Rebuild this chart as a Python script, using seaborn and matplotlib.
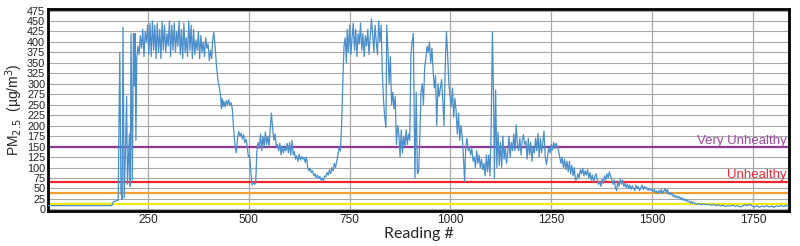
import pandas as pd
import matplotlib.pyplot as plt
import matplotlib.transforms as mtransforms
import seaborn as sns

# Set style
sns.set_theme(style="white")
plt.rcParams['font.family'] = ['Liberation Sans', 'DejaVu Sans']

# Sensor readings (reading number, PM2.5 value)
readings = [
    1, 160, 164, 176,
    180, 183, 186, 188, 191, 194, 197, 199, 202, 204, 206, 208, 211, 214, 216, 218, 220,
    222, 225, 228, 231, 234, 237, 240, 243, 246, 249, 252, 255, 258, 261, 264, 267, 270,
    273, 276, 279, 282, 285, 288, 291, 294, 297, 300, 303, 306, 309, 312, 315, 318, 321,
    324, 327, 330, 333, 336, 339, 342, 345, 348, 351, 354, 357, 360, 363, 366, 369, 372,
    375, 378, 381, 384, 387, 390, 393, 396, 399, 402,
    405, 408, 410, 413, 416, 420, 424, 427, 430, 432, 434, 436, 438, 441, 444, 447, 450,
    453, 456, 459, 462, 466, 469, 472, 475, 478, 481, 484, 487, 490, 493, 496, 499, 502,
    505, 508, 511, 514, 517, 520, 523, 526, 529, 532, 535, 538, 541, 544, 547, 550, 553,
    556, 559, 562, 565, 568, 571, 574, 577, 580, 583, 586, 589, 592, 595, 598, 601, 604,
    607, 610, 613, 616, 619, 622, 625, 628, 631, 634, 637, 640, 643, 646, 649, 652, 655,
    658, 661, 664, 667, 670, 673, 676, 679, 682, 685, 688, 691, 694, 697, 700, 703, 706,
    709, 712, 715, 718, 721, 724, 727, 730, 733, 736, 739, 742, 744, 747, 750, 753, 756,
    759, 762, 765, 768, 771, 774, 777, 780, 783, 786, 789, 792, 795, 798, 801, 804, 807,
    810, 813, 816, 819, 822, 825, 828, 831, 834, 837, 840, 842, 845, 848, 851, 854, 857,
    860, 863, 866, 869, 872, 875, 878, 881, 884, 887, 890, 893, 896, 899, 902, 905, 908,
    910, 912, 915, 918, 921, 924, 927, 930, 933, 936, 939, 942, 945, 948, 951, 954, 957,
    960, 963, 966, 969, 972, 975, 978, 981, 984, 987, 990, 993, 996, 999, 1002, 1005,
    1008, 1011, 1014, 1017, 1020, 1023, 1026, 1029, 1032, 1035, 1038, 1041, 1044, 1047,
    1050, 1053, 1056, 1059, 1062, 1065, 1068, 1071, 1074, 1077, 1080, 1083, 1086, 1089,
    1092, 1095, 1098, 1101, 1104, 1107, 1109, 1112, 1115, 1118, 1121, 1124, 1127, 1130,
    1133, 1136, 1139, 1142, 1145, 1148, 1151, 1154, 1157, 1160, 1163, 1166, 1169, 1172,
    1175, 1178, 1181, 1184, 1187, 1190, 1193, 1196, 1199, 1202, 1205, 1208, 1211, 1214,
    1217, 1220, 1223, 1226, 1229, 1232, 1235, 1238, 1241, 1244, 1247, 1250, 1253, 1256,
    1259, 1262, 1265, 1268, 1271, 1274, 1277, 1280, 1283, 1286, 1289, 1292, 1295, 1298,
    1301, 1304, 1307, 1310, 1313, 1316, 1319, 1322, 1325, 1328, 1331, 1334, 1337, 1340,
    1343, 1346, 1349, 1352, 1355, 1358, 1361, 1364, 1367, 1370, 1373, 1376, 1379, 1382,
    1385, 1388, 1391, 1394, 1397, 1400, 1403, 1406, 1409, 1412, 1415, 1418, 1421, 1424,
    1427, 1430, 1433, 1436, 1439, 1442, 1445, 1448, 1451, 1454, 1457, 1460, 1463, 1466,
    1469, 1472, 1475, 1478, 1481, 1484, 1487, 1490, 1493, 1496, 1499, 1502, 1505, 1508,
    1511, 1514, 1517, 1520, 1523, 1526, 1529, 1532, 1535, 1538, 1541, 1544, 1547, 1550,
    1553, 1556, 1559, 1562, 1565, 1568, 1571, 1574, 1577, 1580, 1583, 1586, 1589, 1592,
    1595, 1598, 1601, 1604, 1610, 1616, 1622, 1628, 1634, 1640, 1646, 1652, 1658, 1664,
    1670, 1676, 1682, 1688, 1694, 1700, 1706, 1712, 1718, 1724, 1730, 1736, 1742, 1748,
    1754, 1760, 1766, 1772, 1778, 1784, 1790, 1796, 1802, 1808, 1814, 1820, 1826, 1832, 1838,
]
pm25 = [
    9, 9, 18, 22,
    375, 40, 24, 435, 28, 140, 270, 60, 135, 180, 55, 420, 70, 420, 295, 420, 165,
    360, 390, 370, 415, 385, 430, 365, 425, 400, 440, 370, 445, 365, 450, 380, 440, 360,
    445, 375, 430, 360, 450, 380, 440, 375, 420, 390, 450, 365, 440, 380, 445, 375, 425,
    390, 450, 370, 430, 360, 445, 375, 410, 365, 450, 380, 440, 360, 430, 370, 405, 380,
    425, 360, 415, 375, 400, 365, 410, 385, 395, 355,
    380, 360, 400, 423, 395, 340, 305, 290, 270, 240, 265, 245, 258, 245, 260, 250, 262,
    248, 255, 240, 195, 150, 135, 170, 186, 175, 182, 168, 178, 160, 168, 150, 125, 128,
    90, 58, 65, 60, 62, 140, 160, 145, 180, 140, 175, 150, 185, 155, 175, 150, 190,
    230, 195, 165, 180, 150, 155, 140, 158, 130, 150, 135, 148, 140, 158, 135, 160, 130,
    165, 130, 138, 120, 128, 115, 132, 118, 126, 120, 124, 112, 125, 100, 92, 98, 88,
    92, 80, 85, 76, 82, 74, 79, 70, 75, 68, 80, 78, 88, 82, 95, 85, 100,
    92, 110, 100, 115, 130, 148, 140, 200, 300, 390, 410, 350, 430, 375, 440, 370, 410,
    445, 380, 430, 365, 420, 395, 445, 380, 420, 365, 415, 390, 430, 370, 410, 455, 420,
    375, 440, 400, 370, 450, 400, 440, 330, 260, 220, 195, 440, 380, 300, 365, 250, 280,
    240, 270, 155, 200, 180, 125, 190, 135, 175, 150, 190, 155, 180, 165, 370, 400, 420,
    230, 75, 280, 85, 90, 170, 280, 300, 250, 340, 360, 390, 375, 400, 350, 385, 330,
    290, 320, 200, 300, 270, 290, 310, 260, 200, 340, 425, 370, 300, 270, 245, 290,
    220, 265, 235, 180, 230, 165, 200, 175, 130, 67, 150, 170, 140, 150,
    130, 145, 115, 125, 100, 140, 110, 130, 100, 120, 95, 110, 80, 130,
    90, 130, 80, 200, 424, 260, 75, 285, 100, 185, 105, 160, 100, 175,
    120, 150, 110, 135, 175, 125, 160, 140, 180, 140, 202, 155, 140, 170,
    130, 165, 178, 155, 163, 120, 170, 130, 160, 115, 150, 135, 170, 140,
    182, 125, 170, 135, 160, 187, 125, 107, 130, 147, 135, 155, 142, 160,
    145, 158, 150, 140, 125, 110, 125, 100, 120, 95, 115, 90, 115, 85,
    105, 80, 100, 70, 72, 85, 75, 95, 85, 98, 80, 92, 82, 95,
    75, 88, 70, 82, 65, 78, 85, 70, 60, 68, 55, 72, 62, 80,
    70, 85, 75, 90, 80, 72, 60, 70, 52, 45, 68, 55, 72, 60,
    70, 55, 62, 52, 60, 50, 58, 48, 56, 50, 45, 58, 50, 55,
    45, 52, 58, 48, 55, 50, 52, 45, 50, 46, 48, 42, 48, 40,
    44, 38, 45, 40, 48, 38, 44, 50, 40, 48, 36, 40, 35, 38,
    30, 34, 28, 32, 27, 30, 24, 28, 22, 25, 20, 23, 18, 20,
    15, 19, 14, 16, 12, 14, 11, 13, 11, 12, 10, 12, 9, 11,
    8, 10, 7, 9, 8, 10, 7, 9, 6, 8, 11, 9, 12, 8,
    6, 9, 5, 8, 6, 9, 6, 8, 5, 8, 7, 9, 7, 9, 8,
]

# AQI threshold lines
aqi_levels = [12, 38, 65, 148]
aqi_colors = ['#f2ea12', '#f5a030', '#f0262e', '#8e3a92']
aqi_labels = ['', '', 'Unhealthy', 'Very Unhealthy']
label_colors = ['#f2ea12', '#f5a030', '#ee2a3a', '#9c47a0']

y_ticks = list(range(0, 476, 25))
x_ticks = [250, 500, 750, 1000, 1250, 1500, 1750]

df = pd.DataFrame({'reading': readings, 'pm25': pm25})

fig = plt.figure(figsize=(8, 2.46), dpi=100)
ax = fig.add_axes([0.06, 0.142, 0.926, 0.822])

for yv in y_ticks:
    ax.axhline(yv, color='#a8a8a8', lw=0.8, zorder=0)
for xv in x_ticks:
    ax.axvline(xv, color='#a8a8a8', lw=0.9, zorder=0)

for lvl, col in zip(aqi_levels, aqi_colors):
    ax.axhline(lvl, color=col, lw=1.6, zorder=2)

sns.lineplot(data=df, x='reading', y='pm25', ax=ax, color='#4a8fcc', lw=0.9, zorder=3)

trans = mtransforms.blended_transform_factory(ax.transAxes, ax.transData)
for lvl, lab, col in zip(aqi_levels, aqi_labels, label_colors):
    if lab:
        ax.text(0.997, lvl + 2, lab, transform=trans, ha='right', va='bottom',
                color=col, fontsize=9.5, zorder=4)

ax.set_xlim(2, 1839)
ax.set_ylim(-4, 479)
ax.set_yticks(y_ticks)
ax.set_xticks(x_ticks)
ax.tick_params(axis='x', length=0, labelsize=8.5, pad=2, colors='#222222')
ax.tick_params(axis='y', length=0, labelsize=7.8, pad=2, colors='#222222')
ax.set_xlabel('Reading #', fontsize=11.5, labelpad=1, family=['Lato', 'DejaVu Sans'])
ax.set_ylabel('PM$_{2.5}$  (\u00b5g/m$^3$)', fontsize=10)
ax.yaxis.set_label_coords(-0.031, 0.5)

for side in ['left', 'bottom', 'top', 'right']:
    ax.spines[side].set_color('black')
    ax.spines[side].set_linewidth(2)

fig.savefig('out.png', dpi=100)
plt.close()
